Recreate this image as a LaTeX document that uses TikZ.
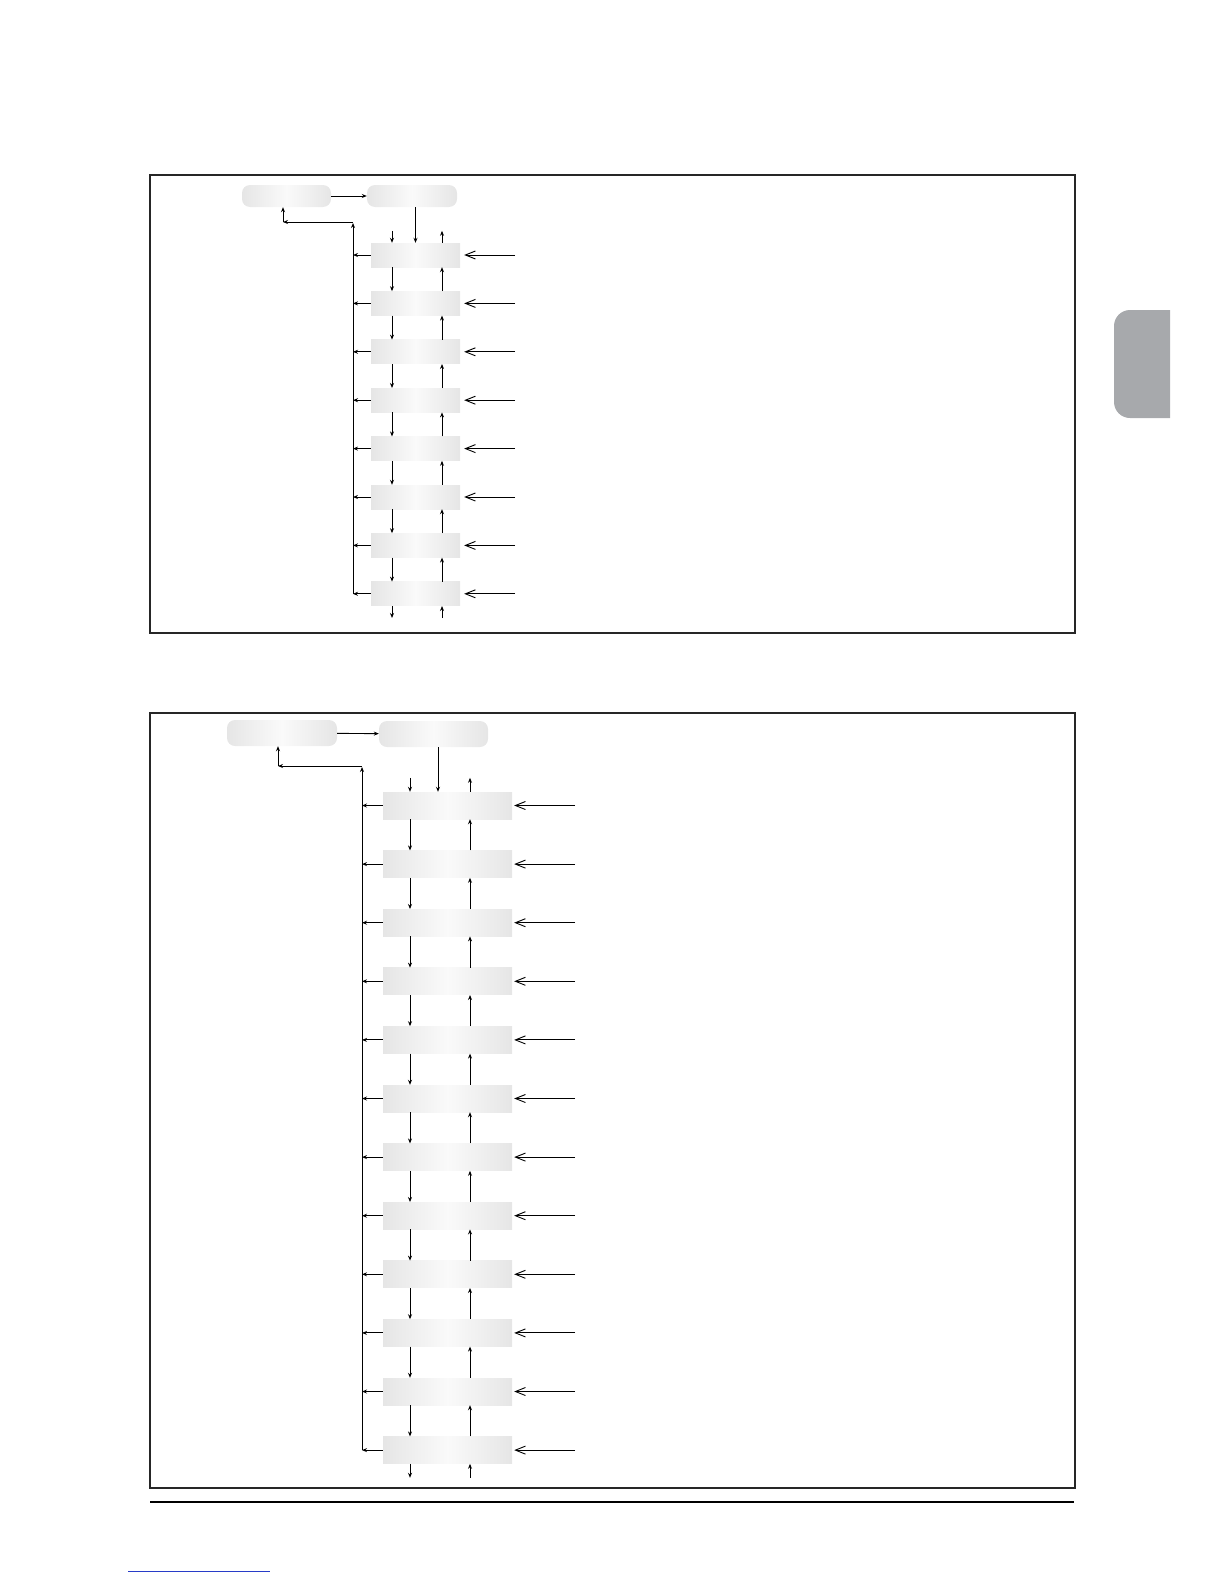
\documentclass[tikz,border=0pt]{standalone}
\usetikzlibrary{arrows.meta,calc}
\definecolor{tabgray}{RGB}{167,169,172}
\definecolor{linkblue}{RGB}{40,60,200}
\begin{document}
\begin{tikzpicture}[x=1pt,y=-1pt,
  frame/.style={draw=black!85, line width=1.6pt},
  rowbox/.style={rectangle, inner sep=0pt, left color=black!10, right color=black!10, middle color=black!2},
  topbox/.style={rowbox, rounded corners=8pt},
  arr/.style={-{Stealth[length=5pt,width=4pt]}, line width=0.9pt},
  inarr/.style={-{Straight Barb[length=10pt,width=8pt]}, line width=0.9pt}]
\useasboundingbox (0,0) rectangle (1224,1584);

% ---------- side tab ----------
\begin{scope}
  \clip (1100,300) rectangle (1170,430);
  \fill[tabgray, rounded corners=16pt] (1114,310) rectangle (1200,418);
\end{scope}

% ---------- frame 1 ----------
\draw[frame] (150,175) rectangle (1075,633);
\node[topbox, minimum width=89pt, minimum height=22pt] (a1) at (286.5,196) {};
\node[topbox, minimum width=90pt, minimum height=22pt] (b1) at (412,196) {};
\draw[arr] (a1) -- (b1);
\foreach \i in {1,...,8}
  \node[rowbox, minimum width=89pt, minimum height=24pt] (r1-\i) at (415.5,{255+48.4*(\i-1)}) {};
\draw[arr] (b1.south -| r1-1.north) -- (r1-1.north);
\foreach \i/\j in {1/2,2/3,3/4,4/5,5/6,6/7,7/8} {
  \draw[arr] ([xshift=-23.5pt]r1-\i.south) -- ([xshift=-23.5pt]r1-\j.north);
  \draw[arr] ([xshift=26.5pt]r1-\j.north) -- ([xshift=26.5pt]r1-\i.south);
}
\draw[arr] ([xshift=-23.5pt,yshift=12pt]r1-1.north) -- ([xshift=-23.5pt]r1-1.north);
\draw[arr] ([xshift=26.5pt]r1-1.north) -- ([xshift=26.5pt,yshift=12pt]r1-1.north);
\draw[arr] ([xshift=-23.5pt]r1-8.south) -- ([xshift=-23.5pt,yshift=-12pt]r1-8.south);
\draw[arr] ([xshift=26.5pt,yshift=-12pt]r1-8.south) -- ([xshift=26.5pt]r1-8.south);
\coordinate (v1) at (353,222);
\coordinate (h1) at (283,222);
\draw[arr] (r1-8.west -| v1) -- ([yshift=-1pt]v1);
\draw[arr] (v1) -- (h1);
\draw[arr] (h1) -- (h1 |- a1.south);
\foreach \i in {1,...,8} {
  \draw[arr] (r1-\i.west) -- (r1-\i.west -| v1);
  \coordinate (in1-\i) at (515,{255+48.4*(\i-1)});
  \draw[inarr] (in1-\i) -- ([xshift=4pt]r1-\i.east);
}

% ---------- frame 2 ----------
\draw[frame] (150,713) rectangle (1075,1488);
\node[topbox, minimum width=110pt, minimum height=26pt] (a2) at (282,733) {};
\node[topbox, minimum width=109pt, minimum height=26pt] (b2) at (433.5,734) {};
\draw[arr] (a2) -- (b2);
\foreach \i in {1,...,12}
  \node[rowbox, minimum width=129pt, minimum height=27pt] (r2-\i) at (447.5,{805.5+58.6*(\i-1)}) {};
\draw[arr] (b2.south -| 438,0) -- (r2-1.north -| 438,0);
\foreach \i/\j in {1/2,2/3,3/4,4/5,5/6,6/7,7/8,8/9,9/10,10/11,11/12} {
  \draw[arr] ([xshift=-37.5pt]r2-\i.south) -- ([xshift=-37.5pt]r2-\j.north);
  \draw[arr] ([xshift=22.5pt]r2-\j.north) -- ([xshift=22.5pt]r2-\i.south);
}
\draw[arr] ([xshift=-37.5pt,yshift=14pt]r2-1.north) -- ([xshift=-37.5pt]r2-1.north);
\draw[arr] ([xshift=22.5pt]r2-1.north) -- ([xshift=22.5pt,yshift=14pt]r2-1.north);
\draw[arr] ([xshift=-37.5pt]r2-12.south) -- ([xshift=-37.5pt,yshift=-14pt]r2-12.south);
\draw[arr] ([xshift=22.5pt,yshift=-14pt]r2-12.south) -- ([xshift=22.5pt]r2-12.south);
\coordinate (v2) at (362,766);
\coordinate (h2) at (278,766);
\draw[arr] (r2-12.west -| v2) -- ([yshift=-1pt]v2);
\draw[arr] (v2) -- (h2);
\draw[arr] (h2) -- (h2 |- a2.south);
\foreach \i in {1,...,12} {
  \draw[arr] (r2-\i.west) -- (r2-\i.west -| v2);
  \coordinate (in2-\i) at (575,{805.5+58.6*(\i-1)});
  \draw[inarr] (in2-\i) -- ([xshift=2pt]r2-\i.east);
}

% ---------- footer ----------
\coordinate (fl) at (150,1502);
\coordinate (fr) at (1074,1502);
\draw[line width=1.2pt] (fl) -- (fr);
\coordinate (ll) at (128,1571);
\coordinate (lr) at (270,1571);
\draw[linkblue, line width=0.8pt] (ll) -- (lr);
\end{tikzpicture}
\end{document}
